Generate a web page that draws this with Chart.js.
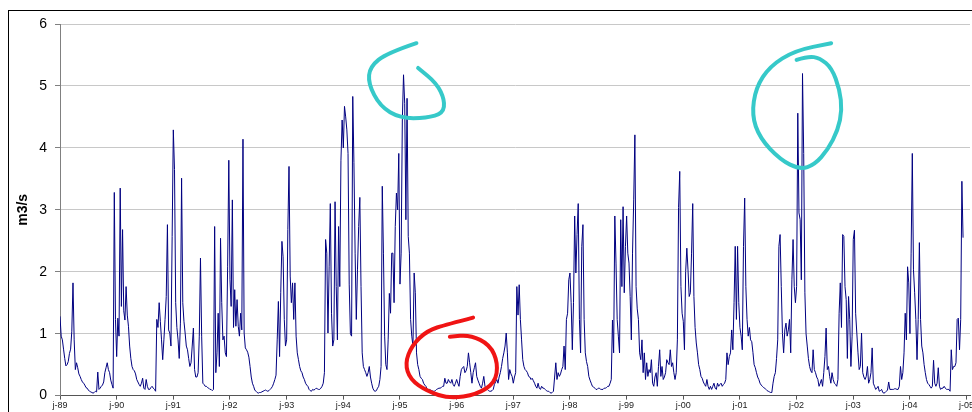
<!DOCTYPE html>
<html>
<head>
<meta charset="utf-8">
<script src="https://cdn.jsdelivr.net/npm/chart.js@4.4.0/dist/chart.umd.min.js"></script>
<style>
  html, body { margin: 0; padding: 0; background: #fff; }
  canvas { display: block; }
</style>
</head>
<body>
<canvas id="flowChart" width="972" height="412"></canvas>
<script>
// discharge, 48 samples per year starting in January (m3/s)
const flow1989 = [1.28, 0.96, 0.9, 0.75, 0.6, 0.48, 0.5, 0.55, 0.68, 0.75, 1.04, 1.82, 0.9, 0.42, 0.53, 0.45, 0.35, 0.31, 0.26, 0.22, 0.2, 0.17, 0.13, 0.12,
                  0.09, 0.07, 0.06, 0.05, 0.04, 0.05, 0.07, 0.06, 0.38, 0.1, 0.12, 0.15, 0.17, 0.22, 0.37, 0.45, 0.53, 0.42, 0.37, 0.25, 0.18, 0.12, 3.28, 1.23];
const flow1990 = [0.63, 1.25, 0.96, 3.35, 1.44, 2.68, 1.37, 1.22, 1.76, 1.3, 1.12, 0.8, 0.6, 0.47, 0.42, 0.4, 0.35, 0.26, 0.22, 0.18, 0.15, 0.2, 0.28, 0.12,
                  0.1, 0.26, 0.15, 0.1, 0.1, 0.13, 0.15, 0.12, 0.1, 0.07, 1.23, 1.1, 1.5, 1.2, 0.9, 0.58, 0.9, 1.23, 1.6, 2.76, 1.06, 1.01, 0.8, 2.57];
const flow1991 = [4.29, 3.65, 1.5, 1.1, 0.9, 0.6, 1.17, 3.51, 1.5, 1.2, 1.01, 0.8, 0.74, 0.6, 0.47, 0.53, 0.8, 1.09, 0.42, 0.3, 0.3, 0.37, 0.96, 2.22,
                  0.96, 0.2, 0.18, 0.15, 0.15, 0.13, 0.12, 0.1, 0.1, 0.08, 0.1, 2.73, 0.37, 0.69, 1.33, 0.47, 2.54, 1.5, 0.9, 0.96, 0.69, 0.63, 2.09, 3.8];
const flow1992 = [1.87, 1.44, 3.16, 1.1, 1.71, 1.12, 1.55, 1.12, 0.96, 1.33, 1.06, 4.14, 1.01, 0.77, 0.74, 0.7, 0.62, 0.47, 0.3, 0.2, 0.15, 0.09, 0.07, 0.05,
                  0.04, 0.05, 0.05, 0.06, 0.07, 0.08, 0.09, 0.08, 0.07, 0.08, 0.1, 0.12, 0.15, 0.2, 0.26, 0.33, 0.9, 1.52, 0.63, 1.66, 2.49, 2.24, 1.23, 0.8];
const flow1993 = [0.9, 2.68, 3.7, 1.93, 1.5, 1.82, 1.23, 1.82, 0.96, 0.69, 0.58, 0.47, 0.4, 0.37, 0.3, 0.26, 0.2, 0.17, 0.15, 0.1, 0.08, 0.07, 0.1, 0.09,
                  0.1, 0.12, 0.11, 0.1, 0.1, 0.12, 0.15, 0.2, 0.37, 2.52, 2.3, 1.01, 2.09, 3.1, 1.33, 0.8, 0.9, 3.13, 1.76, 0.9, 2.73, 1.76, 3.8, 4.45];
const flow1994 = [4.0, 4.67, 4.5, 4.29, 3.91, 1.8, 1.0, 0.96, 4.83, 3.76, 2.3, 1.23, 2.03, 2.73, 3.2, 1.76, 0.69, 0.47, 0.42, 0.37, 0.31, 0.37, 0.47, 0.3,
                  0.2, 0.12, 0.08, 0.07, 0.08, 0.12, 0.15, 0.26, 0.47, 3.38, 2.3, 0.96, 0.5, 0.42, 0.9, 1.65, 1.33, 2.3, 2.3, 1.5, 2.73, 3.27, 3.0, 3.91];
const flow1995 = [1.8, 2.3, 4.45, 5.18, 4.72, 2.84, 4.8, 2.57, 2.3, 1.23, 0.96, 0.8, 1.98, 1.66, 0.69, 0.5, 0.42, 0.31, 0.28, 0.26, 0.2, 0.17, 0.15, 0.1,
                  0.1, 0.1, 0.09, 0.08, 0.07, 0.07, 0.08, 0.1, 0.11, 0.12, 0.12, 0.13, 0.15, 0.15, 0.28, 0.2, 0.2, 0.26, 0.22, 0.2, 0.26, 0.18, 0.15, 0.2];
const flow1996 = [0.26, 0.2, 0.15, 0.31, 0.42, 0.45, 0.47, 0.37, 0.4, 0.47, 0.69, 0.53, 0.37, 0.2, 0.37, 0.45, 0.53, 0.31, 0.25, 0.2, 0.15, 0.12, 0.2, 0.31,
                  0.15, 0.12, 0.1, 0.08, 0.07, 0.07, 0.08, 0.1, 0.18, 0.22, 0.26, 0.2, 0.3, 0.37, 0.47, 0.6, 0.69, 0.8, 1.01, 0.69, 0.26, 0.42, 0.35, 0.31];
const flow1997 = [0.2, 0.3, 0.37, 1.76, 1.3, 1.79, 1.23, 0.9, 0.58, 0.47, 0.42, 0.4, 0.37, 0.31, 0.3, 0.26, 0.28, 0.24, 0.2, 0.15, 0.12, 0.2, 0.12, 0.1,
                  0.15, 0.12, 0.12, 0.1, 0.08, 0.07, 0.07, 0.05, 0.04, 0.05, 0.07, 0.3, 0.53, 0.26, 0.37, 0.31, 0.35, 0.42, 0.47, 0.8, 0.42, 1.23, 1.33, 1.87];
const flow1998 = [1.98, 1.5, 0.74, 1.5, 2.9, 1.98, 2.6, 3.1, 1.23, 0.69, 2.41, 2.76, 1.23, 0.69, 0.55, 0.47, 0.31, 0.25, 0.2, 0.15, 0.14, 0.12, 0.1, 0.1,
                  0.12, 0.12, 0.1, 0.1, 0.1, 0.12, 0.12, 0.13, 0.15, 0.15, 0.2, 0.26, 1.22, 0.69, 2.9, 2.14, 1.23, 0.96, 0.69, 2.84, 1.76, 3.05, 1.66, 2.41];
const flow1999 = [2.9, 2.3, 2.14, 1.6, 0.9, 2.3, 3.16, 4.21, 1.76, 1.4, 1.23, 0.69, 0.58, 0.9, 0.37, 0.69, 0.26, 0.53, 0.31, 0.42, 0.37, 0.58, 0.2, 0.15,
                  0.3, 0.37, 0.15, 0.47, 0.74, 0.31, 0.47, 0.26, 0.3, 0.37, 0.58, 0.53, 0.5, 0.74, 0.47, 0.53, 0.37, 0.26, 0.37, 0.9, 3.04, 3.62, 1.76, 1.33];
const flow2000 = [1.2, 0.74, 2.0, 2.38, 2.03, 1.6, 1.66, 2.3, 3.1, 1.6, 1.1, 0.85, 0.69, 0.5, 0.42, 0.31, 0.28, 0.22, 0.18, 0.15, 0.26, 0.15, 0.1, 0.15,
                  0.1, 0.15, 0.2, 0.12, 0.1, 0.2, 0.15, 0.18, 0.2, 0.15, 0.18, 0.2, 0.26, 0.69, 0.5, 0.63, 0.69, 1.06, 0.74, 1.5, 2.41, 1.23, 2.41, 1.5];
const flow2001 = [1.1, 0.96, 0.74, 2.41, 3.19, 1.76, 1.23, 0.96, 1.1, 0.9, 0.87, 0.7, 0.5, 0.45, 0.37, 0.3, 0.26, 0.2, 0.17, 0.15, 0.13, 0.12, 0.1, 0.08,
                  0.07, 0.06, 0.05, 0.05, 0.2, 0.31, 0.37, 0.6, 0.9, 2.41, 2.6, 1.76, 1.0, 0.69, 1.06, 1.17, 0.96, 1.06, 1.23, 0.69, 1.87, 2.52, 1.76, 1.5];
const flow2002 = [1.76, 4.56, 2.95, 2.84, 1.87, 5.2, 3.91, 1.66, 1.0, 0.8, 0.6, 0.47, 0.4, 0.37, 0.74, 0.42, 0.37, 0.3, 0.26, 0.15, 0.2, 0.26, 0.15, 0.37,
                  0.63, 1.09, 0.42, 0.47, 0.31, 0.2, 0.37, 0.26, 0.2, 0.18, 0.15, 0.26, 1.33, 1.82, 1.1, 2.6, 2.57, 1.76, 1.55, 0.6, 1.6, 1.23, 0.47, 0.96];
const flow2003 = [2.52, 2.67, 1.33, 1.01, 0.69, 0.42, 0.47, 1.01, 0.37, 0.3, 0.26, 0.31, 0.47, 0.2, 0.26, 0.37, 0.77, 0.2, 0.15, 0.1, 0.12, 0.15, 0.07, 0.08,
                  0.1, 0.05, 0.04, 0.05, 0.07, 0.09, 0.22, 0.1, 0.1, 0.1, 0.1, 0.11, 0.11, 0.1, 0.1, 0.15, 0.47, 0.26, 0.37, 0.69, 1.33, 0.9, 2.08, 1.82];
const flow2004 = [1.0, 2.3, 3.91, 2.03, 1.66, 1.23, 0.58, 1.23, 2.47, 1.23, 0.8, 0.69, 0.5, 0.37, 0.26, 0.2, 0.18, 0.15, 0.12, 0.15, 0.57, 0.2, 0.15, 0.2,
                  0.45, 0.15, 0.1, 0.12, 0.12, 0.15, 0.12, 0.1, 0.1, 0.1, 0.07, 0.74, 0.42, 0.47, 0.47, 0.53, 1.23, 1.25, 0.74, 1.23, 3.46, 2.55];

const samplesPerYear = 48;
const startYears = [1989, 1990, 1991, 1992, 1993, 1994, 1995, 1996, 1997, 1998, 1999, 2000, 2001, 2002, 2003, 2004];
const yearlyFlows = [flow1989, flow1990, flow1991, flow1992, flow1993, flow1994, flow1995, flow1996,
                     flow1997, flow1998, flow1999, flow2000, flow2001, flow2002, flow2003, flow2004];
const yearLabels = ['j-89', 'j-90', 'j-91', 'j-92', 'j-93', 'j-94', 'j-95', 'j-96', 'j-97',
                    'j-98', 'j-99', 'j-00', 'j-01', 'j-02', 'j-03', 'j-04', 'j-05'];

// hand-drawn marks on the picture, as [year, m3/s]
const cyanLoop1995 = [[1995.29, 5.69], [1994.77, 5.53], [1994.47, 5.31], [1994.44, 5.04], [1994.65, 4.67], [1995.0, 4.48],
                      [1995.47, 4.48], [1995.76, 4.56], [1995.79, 4.77], [1995.65, 5.04], [1995.32, 5.29]];
const cyanLoop2002 = [[2002.0, 5.42], [2002.2, 5.48], [2002.41, 5.45], [2002.62, 5.29], [2002.76, 4.94], [2002.8, 4.61],
                      [2002.73, 4.29], [2002.55, 3.97], [2002.32, 3.73], [2002.06, 3.65], [2001.71, 3.81], [2001.35, 4.16],
                      [2001.21, 4.53], [2001.28, 4.97], [2001.53, 5.32], [2001.97, 5.57], [2002.61, 5.69]];
const redLoop1996 = [[1996.29, 1.26], [1995.83, 1.15], [1995.48, 1.05], [1995.21, 0.81], [1995.09, 0.52], [1995.18, 0.26],
                     [1995.48, 0.07], [1995.88, -0.05], [1996.36, 0.02], [1996.68, 0.21], [1996.73, 0.52], [1996.59, 0.82],
                     [1996.24, 0.98], [1995.88, 0.95]];

const points = [];
yearlyFlows.forEach((arr, k) => {
  arr.forEach((v, i) => points.push({ x: startYears[k] + i / samplesPerYear, y: v }));
});

const font = 'Liberation Sans, Arial, sans-serif';

const chartFrame = {
  id: 'chartFrame',
  beforeDraw(chart) {
    const ctx = chart.ctx;
    ctx.save();
    ctx.fillStyle = '#fff';
    ctx.fillRect(0, 0, chart.width, chart.height);
    ctx.strokeStyle = '#000';
    ctx.lineWidth = 1;
    ctx.strokeRect(8.5, 10.5, chart.width + 20, chart.height + 20);
    ctx.restore();
  }
};

const scribbles = {
  id: 'scribbles',
  afterDraw(chart) {
    const { ctx, scales: { x, y } } = chart;
    const draw = (pts, color) => {
      const p = pts.map(([a, b]) => [x.getPixelForValue(a), y.getPixelForValue(b)]);
      ctx.save();
      ctx.strokeStyle = color;
      ctx.lineWidth = 4;
      ctx.lineCap = 'round';
      ctx.lineJoin = 'round';
      ctx.beginPath();
      ctx.moveTo(p[0][0], p[0][1]);
      for (let i = 1; i < p.length - 1; i++) {
        const mx = (p[i][0] + p[i + 1][0]) / 2;
        const my = (p[i][1] + p[i + 1][1]) / 2;
        ctx.quadraticCurveTo(p[i][0], p[i][1], mx, my);
      }
      ctx.lineTo(p[p.length - 1][0], p[p.length - 1][1]);
      ctx.stroke();
      ctx.restore();
    };
    draw(cyanLoop1995, '#36c9c9');
    draw(cyanLoop2002, '#36c9c9');
    draw(redLoop1996, '#f01414');
  }
};

new Chart(document.getElementById('flowChart').getContext('2d'), {
  type: 'line',
  data: {
    datasets: [{
      data: points,
      borderColor: '#000080',
      borderWidth: 1,
      pointRadius: 0,
      tension: 0,
      fill: false
    }]
  },
  options: {
    responsive: false,
    animation: false,
    layout: { padding: { top: 24, right: 2, bottom: 0, left: 0 } },
    plugins: {
      legend: { display: false },
      tooltip: { enabled: false }
    },
    scales: {
      x: {
        type: 'linear',
        min: 1989,
        max: 2005.06,
        afterFit(s) { s.height = 16; s.paddingLeft = 0; s.paddingRight = 0; },
        ticks: {
          stepSize: 1,
          autoSkip: false,
          maxRotation: 0,
          includeBounds: false,
          padding: 1,
          color: '#222',
          font: { family: font, size: 9 },
          callback: (v) => yearLabels[Math.round(v) - 1989]
        },
        grid: { drawOnChartArea: false, drawTicks: true, tickLength: 4, tickColor: '#555' },
        border: { color: '#555' }
      },
      y: {
        min: 0,
        max: 6,
        afterFit(s) { s.width = 60; },
        ticks: {
          stepSize: 1,
          padding: 8,
          color: '#000',
          font: { family: font, size: 14 }
        },
        grid: { color: '#c8c8c8', tickColor: '#808080', tickLength: 5 },
        border: { color: '#808080' },
        title: {
          display: true,
          text: 'm3/s',
          color: '#000',
          font: { family: font, size: 14, weight: 'bold' },
          padding: { top: 15, bottom: 0 }
        }
      }
    }
  },
  plugins: [chartFrame, scribbles]
});
</script>
</body>
</html>
